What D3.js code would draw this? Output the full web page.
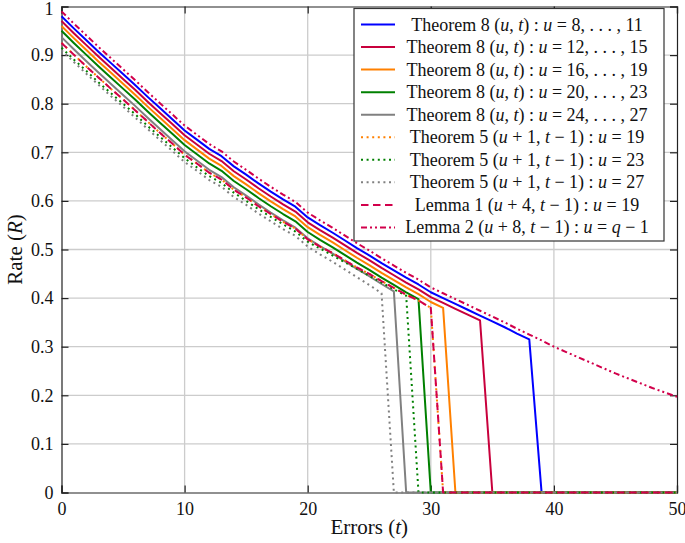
<!DOCTYPE html>
<html><head><meta charset="utf-8">
<script src="https://cdn.jsdelivr.net/npm/d3@7"></script>
<style>body{margin:0;background:#fff}svg{display:block}</style>
</head><body>
<svg id="chart" width="685" height="543"></svg>
<script>
// ---- data ----
const errors = d3.range(0, 51); // t = 0..50
const xTicks = [0, 10, 20, 30, 40, 50];
const yTicks = [0, 0.1, 0.2, 0.3, 0.4, 0.5, 0.6, 0.7, 0.8, 0.9, 1];

const thm8_u8_11 = [0.980,0.955,0.931,0.907,0.884,0.861,0.838,0.814,0.791,0.768,0.745,0.726,0.707,0.692,0.671,0.654,0.636,0.619,0.603,0.588,0.566,0.550,0.535,0.519,0.503,0.488,0.472,0.457,0.442,0.428,0.412,0.400,0.388,0.376,0.364,0.352,0.340,0.327,0.315,0,0,0,0,0,0,0,0,0,0,0,0];
const thm8_u12_15 = [0.970,0.945,0.921,0.897,0.874,0.851,0.828,0.804,0.781,0.758,0.735,0.716,0.697,0.682,0.661,0.644,0.626,0.609,0.593,0.578,0.556,0.540,0.525,0.509,0.493,0.478,0.462,0.447,0.432,0.418,0.402,0.390,0.378,0.366,0.354,0,0,0,0,0,0,0,0,0,0,0,0,0,0,0,0];
const thm8_u16_19 = [0.960,0.935,0.911,0.887,0.864,0.841,0.818,0.794,0.771,0.748,0.725,0.706,0.687,0.672,0.651,0.634,0.616,0.599,0.583,0.568,0.546,0.530,0.515,0.499,0.483,0.468,0.452,0.437,0.422,0.408,0.392,0.380,0,0,0,0,0,0,0,0,0,0,0,0,0,0,0,0,0,0,0];
const thm8_u20_23 = [0.950,0.925,0.901,0.877,0.854,0.831,0.808,0.784,0.761,0.738,0.715,0.696,0.677,0.662,0.641,0.624,0.606,0.589,0.573,0.558,0.536,0.520,0.505,0.489,0.473,0.458,0.442,0.427,0.412,0.398,0,0,0,0,0,0,0,0,0,0,0,0,0,0,0,0,0,0,0,0,0];
const thm8_u24_27 = [0.937,0.912,0.888,0.864,0.841,0.818,0.795,0.771,0.748,0.725,0.702,0.683,0.664,0.649,0.628,0.611,0.593,0.576,0.560,0.545,0.523,0.507,0.492,0.476,0.460,0.445,0.429,0.414,0,0,0,0,0,0,0,0,0,0,0,0,0,0,0,0,0,0,0,0,0,0,0];
const thm5_u19 = [0.925,0.901,0.877,0.854,0.831,0.809,0.786,0.763,0.740,0.718,0.695,0.677,0.658,0.644,0.623,0.607,0.589,0.573,0.557,0.543,0.521,0.506,0.493,0.478,0.463,0.450,0.435,0.421,0.407,0.395,0.380,0,0,0,0,0,0,0,0,0,0,0,0,0,0,0,0,0,0,0,0];
const thm5_u23 = [0.915,0.891,0.868,0.844,0.822,0.800,0.778,0.754,0.732,0.710,0.688,0.669,0.651,0.637,0.617,0.600,0.583,0.567,0.552,0.537,0.516,0.502,0.488,0.474,0.460,0.446,0.432,0.418,0.405,0,0,0,0,0,0,0,0,0,0,0,0,0,0,0,0,0,0,0,0,0,0];
const thm5_u27 = [0.910,0.886,0.862,0.839,0.816,0.794,0.771,0.748,0.725,0.703,0.680,0.662,0.643,0.629,0.608,0.592,0.574,0.558,0.542,0.528,0.506,0.490,0.475,0.459,0.443,0.427,0.410,0,0,0,0,0,0,0,0,0,0,0,0,0,0,0,0,0,0,0,0,0,0,0,0];
const lemma1_u19 = [0.925,0.901,0.877,0.854,0.831,0.809,0.786,0.763,0.740,0.718,0.695,0.677,0.658,0.644,0.623,0.607,0.589,0.573,0.557,0.543,0.521,0.506,0.493,0.478,0.463,0.450,0.435,0.421,0.407,0.395,0.380,0,0,0,0,0,0,0,0,0,0,0,0,0,0,0,0,0,0,0,0];
const lemma2_uq1 = [0.990,0.965,0.941,0.917,0.894,0.871,0.848,0.824,0.801,0.778,0.755,0.736,0.717,0.702,0.681,0.664,0.646,0.629,0.613,0.598,0.576,0.560,0.545,0.529,0.513,0.498,0.482,0.467,0.452,0.438,0.422,0.410,0.398,0.386,0.374,0.362,0.350,0.337,0.325,0.313,0.300,0.289,0.278,0.267,0.256,0.245,0.235,0.225,0.215,0.206,0.197];

const seriesLabels = [
  "Theorem 8 |(u, t) : u = 8, . . . , 11",
  "Theorem 8 |(u, t) : u = 12, . . . , 15",
  "Theorem 8 |(u, t) : u = 16, . . . , 19",
  "Theorem 8 |(u, t) : u = 20, . . . , 23",
  "Theorem 8 |(u, t) : u = 24, . . . , 27",
  "Theorem 5 |(u + 1, t \u2212 1) : u = 19",
  "Theorem 5 |(u + 1, t \u2212 1) : u = 23",
  "Theorem 5 |(u + 1, t \u2212 1) : u = 27",
  "Lemma 1 |(u + 4, t \u2212 1) : u = 19",
  "Lemma 2 |(u + 8, t \u2212 1) : u = q \u2212 1"
];
const seriesValues = [thm8_u8_11, thm8_u12_15, thm8_u16_19, thm8_u20_23, thm8_u24_27, thm5_u19, thm5_u23, thm5_u27, lemma1_u19, lemma2_uq1];
const seriesColors = ["#0000ff", "#c8003c", "#ff8000", "#008000", "#808080", "#ff8000", "#008000", "#808080", "#d2004b", "#d2004b"];
const seriesDash = [null, null, null, null, null, "2,3.6", "2,3.6", "2,3.6", "7.5,4.5", "6,3,2,3,2,3"];

// ---- layout ----
const svg = d3.select("#chart");
const L = 61.5, R = 677, T = 6.5, B = 492.5;
const x = d3.scaleLinear().domain([0, 50]).range([L, R]);
const y = d3.scaleLinear().domain([0, 1]).range([B, T]);
const font = "'Liberation Serif', 'Times New Roman', serif";

// grid
svg.append("g").selectAll("line").data(xTicks.slice(1, -1)).join("line")
  .attr("x1", d => x(d)).attr("x2", d => x(d)).attr("y1", T).attr("y2", B)
  .attr("stroke", "#cccccc").attr("stroke-width", 1.3);
svg.append("g").selectAll("line").data(yTicks.slice(1, -1)).join("line")
  .attr("y1", d => y(d)).attr("y2", d => y(d)).attr("x1", L).attr("x2", R)
  .attr("stroke", "#cccccc").attr("stroke-width", 1.3);

// axes (inward ticks on all sides)
const tk = 7;
const axB = svg.append("g").attr("transform", `translate(0,${B})`)
  .call(d3.axisBottom(x).tickValues(xTicks).tickSize(-tk).tickPadding(10).tickFormat(d3.format("d")));
const axT = svg.append("g").attr("transform", `translate(0,${T})`)
  .call(d3.axisTop(x).tickValues(xTicks).tickSize(-tk).tickFormat(""));
const axL = svg.append("g").attr("transform", `translate(${L},0)`)
  .call(d3.axisLeft(y).tickValues(yTicks).tickSize(-tk).tickPadding(8).tickFormat(d => d === 0 ? "0" : d === 1 ? "1" : d3.format(".1f")(d)));
const axR = svg.append("g").attr("transform", `translate(${R},0)`)
  .call(d3.axisRight(y).tickValues(yTicks).tickSize(-tk).tickFormat(""));
[axB, axT, axL, axR].forEach(g => {
  g.select(".domain").attr("stroke", "#222").attr("stroke-width", 1.2);
  g.selectAll(".tick line").attr("stroke", "#222").attr("stroke-width", 1.2);
  g.selectAll("text").attr("font-family", font).attr("font-size", 18).attr("fill", "#111");
});
axL.selectAll(".tick text").filter(d => d === 1).attr("dy", "0.45em");

// lines
const line = d3.line().x((d, i) => x(errors[i])).y(d => y(d));
seriesValues.forEach((vals, i) => {
  svg.append("path").datum(vals)
    .attr("d", line)
    .attr("fill", "none")
    .attr("stroke", seriesColors[i])
    .attr("stroke-width", 2)
    .attr("stroke-linejoin", "round")
    .attr("stroke-dasharray", seriesDash[i]);
});

// helper for math-ish text
function mathText(sel, str) {
  const parts = str.split("|");
  sel.append("tspan").text(parts[0]);
  if (parts.length > 1) {
    for (const ch of parts[1]) {
      const it = (ch === "u" || ch === "t" || ch === "q");
      sel.append("tspan").attr("font-style", it ? "italic" : null).text(ch);
    }
  }
}

// legend
const lg = svg.append("g");
const lx0 = 354, lx1 = 664, ly0 = 8.5, ly1 = 241;
lg.append("rect").attr("x", lx0).attr("y", ly0).attr("width", lx1 - lx0).attr("height", ly1 - ly0)
  .attr("fill", "#fff").attr("stroke", "#333").attr("stroke-width", 1.2);
seriesLabels.forEach((lab, i) => {
  const yy = 24.5 + i * 22.55;
  lg.append("line").attr("x1", 361).attr("x2", 395).attr("y1", yy).attr("y2", yy)
    .attr("stroke", seriesColors[i]).attr("stroke-width", 2).attr("stroke-dasharray", seriesDash[i]);
  const t = lg.append("text").attr("x", 527).attr("y", yy + 6).attr("text-anchor", "middle")
    .attr("font-family", font).attr("font-size", 18).attr("fill", "#111");
  mathText(t, lab);
});

// axis titles
const xt = svg.append("text").attr("x", (L + R) / 2).attr("y", 534).attr("text-anchor", "middle")
  .attr("font-family", font).attr("font-size", 21).attr("fill", "#111");
mathText(xt, "Errors |(t)");
const yt = svg.append("text").attr("transform", `translate(22,${(T + B) / 2}) rotate(-90)`).attr("text-anchor", "middle")
  .attr("font-family", font).attr("font-size", 21).attr("fill", "#111");
yt.append("tspan").text("Rate (");
yt.append("tspan").attr("font-style", "italic").text("R");
yt.append("tspan").text(")");
</script>
</body></html>
